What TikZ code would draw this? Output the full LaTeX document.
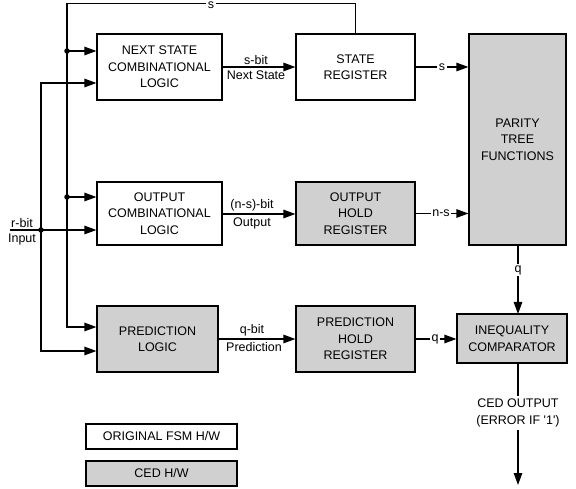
\documentclass[tikz,border=0pt]{standalone}
\usepackage{fontspec}
\setmainfont{Liberation Sans}
\usetikzlibrary{arrows.meta}
\definecolor{cedgray}{RGB}{208,208,208}
\begin{document}
\begin{tikzpicture}[x=1pt,y=-1pt,
  font=\fontsize{12.5}{16.5}\selectfont,
  every path/.style={line width=1.2pt},
  blk/.style={draw, line width=1.2pt, align=center, inner sep=0pt},
  fsm/.style={blk, fill=white},
  ced/.style={blk, fill=cedgray},
  arr/.style={-{Triangle[length=12pt,width=8.5pt]}},
  lbl/.style={fill=white, inner sep=1.5pt},
  dot/.style={circle, fill=black, inner sep=0pt, minimum size=5.5pt}]
\useasboundingbox (0,0) rectangle (576,489);

% hardware blocks
\node[fsm, minimum width=125, minimum height=66] (ns) at (159.5,67) {NEXT STATE\\COMBINATIONAL\\LOGIC};
\node[fsm, minimum width=119, minimum height=66] (sr) at (355.5,67) {STATE\\REGISTER};
\node[ced, minimum width=97, minimum height=211] (pt) at (517.5,139.5) {PARITY\\TREE\\FUNCTIONS};
\node[fsm, minimum width=125, minimum height=63] (oc) at (159.5,213.5) {OUTPUT\\COMBINATIONAL\\LOGIC};
\node[ced, minimum width=119, minimum height=63] (oh) at (355.5,213.5) {OUTPUT\\HOLD\\REGISTER};
\node[ced, minimum width=121, minimum height=66] (pl) at (157.5,339) {PREDICTION\\LOGIC};
\node[ced, minimum width=119, minimum height=66] (ph) at (355.5,339) {PREDICTION\\HOLD\\REGISTER};
\node[ced, minimum width=110, minimum height=49] (cmp) at (512,338.5) {INEQUALITY\\COMPARATOR};

% legend
\node[fsm, minimum width=151, minimum height=25] (lg1) at (161.5,436.5) {ORIGINAL FSM H/W};
\node[ced, minimum width=151, minimum height=25] (lg2) at (161.5,473.5) {CED H/W};

% routing points
\coordinate (top) at (355.5,3.5);
\coordinate (fbl) at (67,3.5);
\coordinate (fb1) at (67,51);
\coordinate (fb2) at (67,197);
\coordinate (fb3) at (67,327);
\coordinate (inL) at (10,230);
\coordinate (in0) at (41,230);
\coordinate (in1) at (41,83);
\coordinate (in3) at (41,351);
\coordinate (ced) at (518,485);

% state feedback
\draw[arr] (sr.north) -- (top) -- (fbl) -- (fb3) -- (pl.west |- fb3);
\node[lbl, inner sep=1.5pt] (slbl) at (211,5.5) {s};
\draw[arr] (fb1) -- (ns.west |- fb1);
\draw[arr] (fb2) -- (oc.west |- fb2);
\node[dot] (d1) at (fb1) {};
\node[dot] (d2) at (fb2) {};

% primary input
\draw[arr] (inL) -- (oc.west |- inL);
\draw[arr] (in0) -- (in1) -- (ns.west |- in1);
\draw[arr] (in0) -- (in3) -- (pl.west |- in3);
\node[dot] (d0) at (in0) {};
\node[above, inner sep=2pt] (rbit) at (22,230) {r-bit};
\node[below, inner sep=3pt] (inp) at (22,230) {Input};

% data path
\draw[arr] (ns.east) -- (sr.west);
\node[above, inner sep=2pt] (sb) at (256,67) {s-bit};
\node[below, inner sep=3pt] (nsl) at (256,67) {Next State};

\draw[arr] (oc.east |- 214,214) -- (oh.west |- 214,214);
\node[above, inner sep=2pt] (nsb) at (252,214) {(n-s)-bit};
\node[below, inner sep=3pt] (outl) at (252,214) {Output};

\draw[arr] (pl.east) -- (ph.west);
\node[above, inner sep=2pt] (qb) at (252,339) {q-bit};
\node[below, inner sep=3pt] (prl) at (254,339) {Prediction};

\draw[arr] (sr.east) -- (pt.west |- sr.east);
\node[lbl] (s2) at (442,67) {s};
\draw[arr] (oh.east) -- (pt.west |- oh.east);
\node[lbl] (ns2) at (441,213.5) {n-s};
\draw[arr] (ph.east) -- (cmp.west |- ph.east);
\node[lbl] (q2) at (435,339) {q};
\draw[arr] (518,245) -- (518,314);
\node[lbl] (q1) at (518,270) {q};

% detector output
\draw[arr] (cmp.south -| ced) -- (ced);
\node[lbl, align=center, inner sep=3pt] (cedl) at (518,413) {CED OUTPUT\\(ERROR IF \textquotesingle 1\textquotesingle)};
\end{tikzpicture}
\end{document}
